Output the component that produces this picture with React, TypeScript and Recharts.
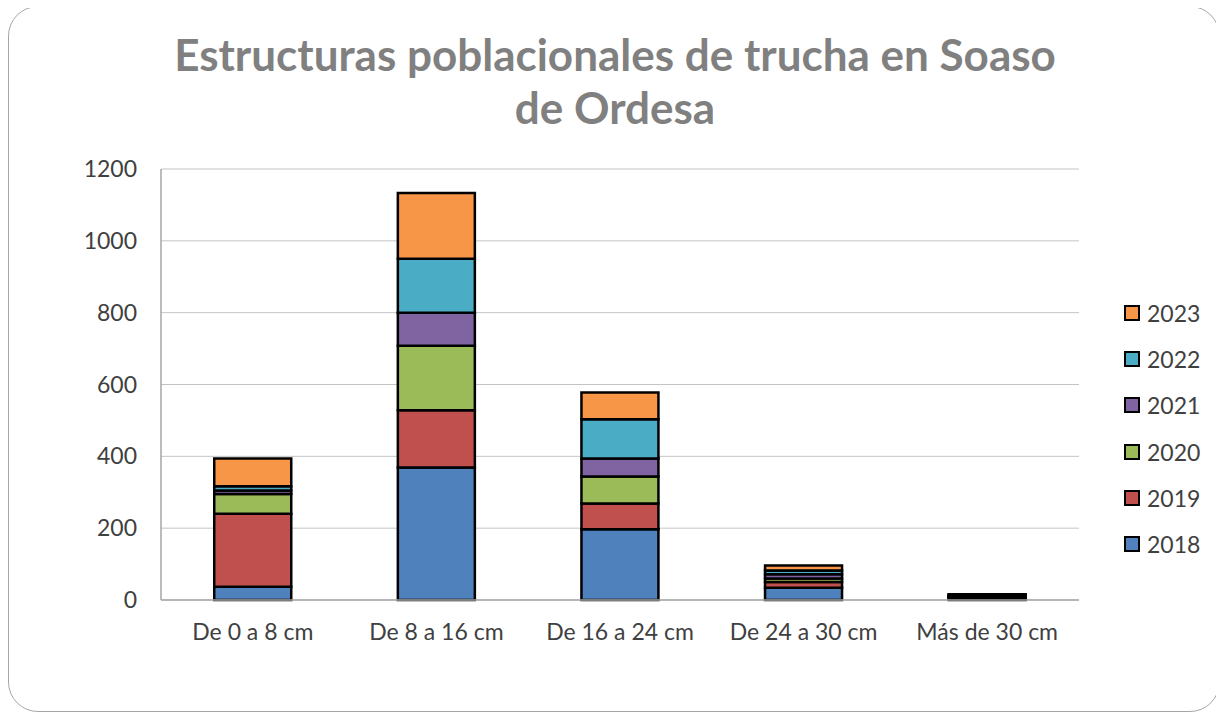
import { Bar, BarChart, CartesianGrid, XAxis, YAxis } from 'recharts';

const categories = ['De 0 a 8 cm', 'De 8 a 16 cm', 'De 16 a 24 cm', 'De 24 a 30 cm', 'Más de 30 cm'];
const years = ['2018', '2019', '2020', '2021', '2022', '2023'];
const colors = ['#4f81bd', '#c0504d', '#9bbb59', '#8064a2', '#4bacc6', '#f79646'];

const v2018 = [37, 369, 197, 34, 5];
const v2019 = [203, 159, 72, 16, 2];
const v2020 = [55, 180, 75, 10, 3];
const v2021 = [10, 92, 50, 12, 2];
const v2022 = [12, 150, 109, 10, 2];
const v2023 = [77, 183, 75, 14, 2];

const yTicks = [0, 200, 400, 600, 800, 1000, 1200];

const seriesValues = [v2018, v2019, v2020, v2021, v2022, v2023];

const data = categories.map((name, i) => {
  const row: Record<string, string | number> = { name };
  years.forEach((y, j) => {
    row[y] = seriesValues[j][i];
  });
  return row;
});

const font = 'Lato, "Open Sans", sans-serif';

export default function App() {
  return (
    <div
      style={{
        position: 'relative',
        width: 1212,
        height: 706,
        marginTop: -2,
        border: '1.5px solid #a6a6a6',
        borderRadius: 30,
        background: '#fff',
        fontFamily: font,
        boxSizing: 'border-box',
      }}
    >
      <div
        style={{
          position: 'absolute',
          left: 0,
          top: 21,
          width: 1212,
          textAlign: 'center',
          fontSize: 44,
          fontWeight: 700,
          lineHeight: '53px',
          color: '#808080',
        }}
      >
        Estructuras poblacionales de trucha en Soaso
        <br />
        de Ordesa
      </div>
      <BarChart
        width={1210}
        height={704}
        data={data}
        margin={{ top: 162, right: 140, left: 0, bottom: 81 }}
        barCategoryGap="29%"
      >
        <CartesianGrid stroke="#c4c4c4" vertical={false} />
        <XAxis
          dataKey="name"
          tickLine={false}
          axisLine={{ stroke: '#a6a6a6', strokeWidth: 1.5 }}
          tickSize={0}
          tickMargin={24}
          tick={{ fill: '#404040', fontSize: 23, fontFamily: font }}
          interval={0}
        />
        <YAxis
          width={152}
          domain={[0, 1200]}
          ticks={yTicks}
          tickLine={false}
          axisLine={{ stroke: '#a6a6a6', strokeWidth: 1.5 }}
          tickSize={0}
          tickMargin={24}
          tick={{ fill: '#404040', fontSize: 23, fontFamily: font }}
        />
        {years.map((y, j) => (
          <Bar
            key={y}
            dataKey={y}
            stackId="a"
            fill={colors[j]}
            stroke="#000"
            strokeWidth={2.5}
            isAnimationActive={false}
          />
        ))}
      </BarChart>
      <div style={{ position: 'absolute', left: 1115, top: 283 }}>
        {years
          .map((y, j) => ({ y, c: colors[j] }))
          .reverse()
          .map(({ y, c }) => (
            <div key={y} style={{ display: 'flex', alignItems: 'center', height: 46.2 }}>
              <span
                style={{
                  display: 'inline-block',
                  width: 12,
                  height: 12,
                  background: c,
                  border: '2px solid #000',
                  marginRight: 7,
                }}
              />
              <span style={{ fontSize: 23, color: '#404040' }}>{y}</span>
            </div>
          ))}
      </div>
    </div>
  );
}
